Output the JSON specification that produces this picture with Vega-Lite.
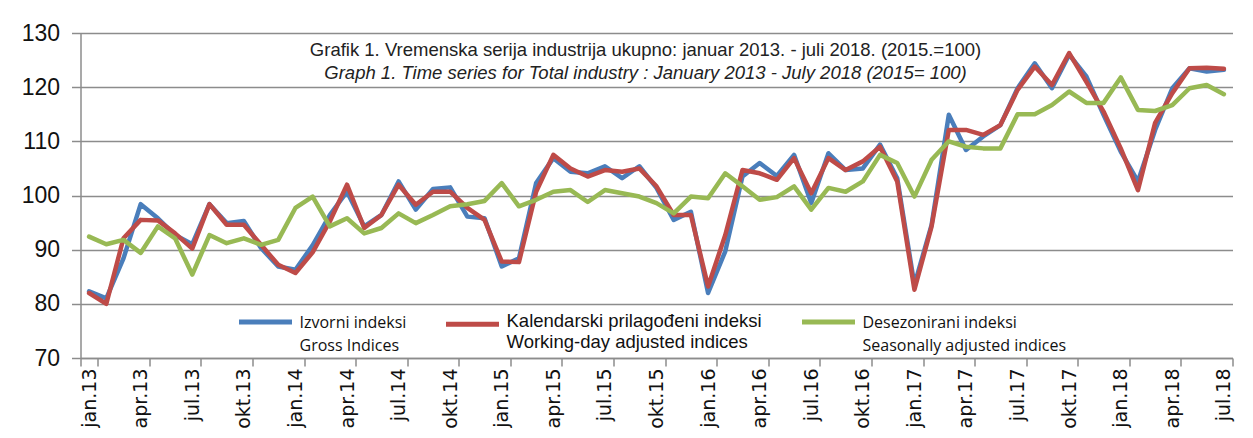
{
  "$schema": "https://vega.github.io/schema/vega-lite/v6.json",
  "width": 1152,
  "height": 325,
  "autosize": "none",
  "padding": {"left": 80.5, "top": 33, "right": 20.5, "bottom": 80},
  "background": "white",
  "title": {
    "text": "Grafik 1. Vremenska serija industrija ukupno: januar 2013. - juli 2018. (2015.=100)",
    "subtitle": "Graph 1. Time series for Total industry : January 2013 - July 2018 (2015= 100)",
    "anchor": "middle",
    "frame": "group",
    "offset": -60,
    "dx": -11,
    "font": "Liberation Sans",
    "fontSize": 18.5,
    "fontWeight": "normal",
    "color": "#222222",
    "subtitleFont": "Liberation Sans",
    "subtitleFontSize": 18.5,
    "subtitleFontStyle": "italic",
    "subtitleColor": "#222222",
    "subtitlePadding": 4
  },
  "data": {
    "values": [
      {"m": "jan.13", "g": 82.3, "w": 82.0, "s": 92.4},
      {"m": "feb.13", "g": 81.0, "w": 80.0, "s": 91.0},
      {"m": "mar.13", "g": 88.4, "w": 92.1, "s": 91.8},
      {"m": "apr.13", "g": 98.4, "w": 95.5, "s": 89.4},
      {"m": "maj.13", "g": 95.8, "w": 95.4, "s": 94.3},
      {"m": "jun.13", "g": 92.7, "w": 93.0, "s": 92.1},
      {"m": "jul.13", "g": 91.0, "w": 90.2, "s": 85.4},
      {"m": "avg.13", "g": 98.4, "w": 98.4, "s": 92.7},
      {"m": "sep.13", "g": 94.9, "w": 94.6, "s": 91.2},
      {"m": "okt.13", "g": 95.3, "w": 94.6, "s": 92.1},
      {"m": "nov.13", "g": 90.3, "w": 90.9, "s": 90.9},
      {"m": "dec.13", "g": 86.9, "w": 87.2, "s": 91.8},
      {"m": "jan.14", "g": 86.3, "w": 85.7, "s": 97.7},
      {"m": "feb.14", "g": 90.8, "w": 89.5, "s": 99.8},
      {"m": "mar.14", "g": 96.4, "w": 95.2, "s": 94.3},
      {"m": "apr.14", "g": 100.7, "w": 102.0, "s": 95.8},
      {"m": "maj.14", "g": 94.3, "w": 94.0, "s": 93.0},
      {"m": "jun.14", "g": 96.4, "w": 96.4, "s": 94.0},
      {"m": "jul.14", "g": 102.6, "w": 102.0, "s": 96.7},
      {"m": "avg.14", "g": 97.4, "w": 98.3, "s": 94.9},
      {"m": "sep.14", "g": 101.2, "w": 100.7, "s": 96.4},
      {"m": "okt.14", "g": 101.5, "w": 100.7, "s": 98.0},
      {"m": "nov.14", "g": 96.1, "w": 97.7, "s": 98.4},
      {"m": "dec.14", "g": 95.8, "w": 95.5, "s": 99.0},
      {"m": "jan.15", "g": 86.9, "w": 87.8, "s": 102.3},
      {"m": "feb.15", "g": 88.4, "w": 87.7, "s": 98.0},
      {"m": "mar.15", "g": 102.3, "w": 100.7, "s": 99.2},
      {"m": "apr.15", "g": 106.9, "w": 107.5, "s": 100.7},
      {"m": "maj.15", "g": 104.4, "w": 105.0, "s": 101.0},
      {"m": "jun.15", "g": 104.1, "w": 103.5, "s": 98.8},
      {"m": "jul.15", "g": 105.4, "w": 104.7, "s": 101.0},
      {"m": "avg.15", "g": 103.2, "w": 104.4, "s": 100.4},
      {"m": "sep.15", "g": 105.4, "w": 105.0, "s": 99.8},
      {"m": "okt.15", "g": 101.4, "w": 101.7, "s": 98.6},
      {"m": "nov.15", "g": 95.5, "w": 96.4, "s": 96.7},
      {"m": "dec.15", "g": 97.0, "w": 96.4, "s": 99.8},
      {"m": "jan.16", "g": 82.0, "w": 83.2, "s": 99.5},
      {"m": "feb.16", "g": 89.7, "w": 92.7, "s": 104.1},
      {"m": "mar.16", "g": 103.5, "w": 104.7, "s": 101.7},
      {"m": "apr.16", "g": 106.0, "w": 104.1, "s": 99.2},
      {"m": "maj.16", "g": 103.6, "w": 102.9, "s": 99.7},
      {"m": "jun.16", "g": 107.5, "w": 106.9, "s": 101.7},
      {"m": "jul.16", "g": 98.6, "w": 100.4, "s": 97.4},
      {"m": "avg.16", "g": 107.8, "w": 106.9, "s": 101.4},
      {"m": "sep.16", "g": 104.7, "w": 104.7, "s": 100.7},
      {"m": "okt.16", "g": 105.0, "w": 106.3, "s": 102.6},
      {"m": "nov.16", "g": 109.4, "w": 109.0, "s": 107.5},
      {"m": "dec.16", "g": 103.2, "w": 102.6, "s": 106.0},
      {"m": "jan.17", "g": 83.5, "w": 82.6, "s": 99.8},
      {"m": "feb.17", "g": 94.6, "w": 94.3, "s": 106.6},
      {"m": "mar.17", "g": 114.9, "w": 112.1, "s": 110.0},
      {"m": "apr.17", "g": 108.4, "w": 112.1, "s": 109.0},
      {"m": "maj.17", "g": 110.9, "w": 111.2, "s": 108.7},
      {"m": "jun.17", "g": 113.0, "w": 113.0, "s": 108.7},
      {"m": "jul.17", "g": 119.8, "w": 119.5, "s": 115.0},
      {"m": "avg.17", "g": 124.4, "w": 123.8, "s": 115.0},
      {"m": "sep.17", "g": 119.8, "w": 120.4, "s": 116.7},
      {"m": "okt.17", "g": 126.0, "w": 126.3, "s": 119.2},
      {"m": "nov.17", "g": 122.0, "w": 121.0, "s": 117.1},
      {"m": "dec.17", "g": 114.9, "w": 115.5, "s": 117.1},
      {"m": "jan.18", "g": 108.1, "w": 108.7, "s": 121.8},
      {"m": "feb.18", "g": 102.6, "w": 101.0, "s": 115.8},
      {"m": "mar.18", "g": 112.1, "w": 113.4, "s": 115.6},
      {"m": "apr.18", "g": 119.8, "w": 118.9, "s": 116.7},
      {"m": "maj.18", "g": 123.5, "w": 123.5, "s": 119.8},
      {"m": "jun.18", "g": 122.9, "w": 123.6, "s": 120.4},
      {"m": "jul.18", "g": 123.2, "w": 123.4, "s": 118.7}
    ]
  },
  "transform": [{"fold": ["g", "w", "s"], "as": ["series", "value"]}],
  "mark": {"type": "line", "strokeWidth": 4.5, "strokeJoin": "round", "strokeCap": "round"},
  "encoding": {
    "x": {
      "field": "m",
      "type": "ordinal",
      "sort": null,
      "bandPosition": 0.5,
      "scale": {"type": "band", "paddingInner": 0, "paddingOuter": 0},
      "axis": {
        "title": null,
        "values": ["jan.13", "apr.13", "jul.13", "okt.13", "jan.14", "apr.14", "jul.14", "okt.14", "jan.15", "apr.15", "jul.15", "okt.15", "jan.16", "apr.16", "jul.16", "okt.16", "jan.17", "apr.17", "jul.17", "okt.17", "jan.18", "apr.18", "jul.18"],
        "tickBand": "extent",
        "labelAngle": -90,
        "labelAlign": "right",
        "labelBaseline": "middle",
        "labelFont": "DejaVu Sans",
        "labelFontSize": 19,
        "labelColor": "#111111",
        "labelPadding": 2,
        "tickSize": 8,
        "tickColor": "#8c8c8c",
        "tickWidth": 1.5,
        "domainColor": "#8c8c8c",
        "domainWidth": 1.5,
        "grid": false,
        "labelOverlap": false
      }
    },
    "y": {
      "field": "value",
      "type": "quantitative",
      "scale": {"domain": [70, 130], "nice": false, "zero": false},
      "axis": {
        "title": null,
        "values": [70, 80, 90, 100, 110, 120, 130],
        "labelFont": "Liberation Sans",
        "labelFontSize": 23,
        "labelColor": "#111111",
        "labelPadding": 12,
        "tickSize": 9,
        "tickColor": "#8c8c8c",
        "tickWidth": 1.5,
        "domainColor": "#8c8c8c",
        "domainWidth": 1.5,
        "grid": true,
        "gridColor": "#8c8c8c",
        "gridWidth": 1.5
      }
    },
    "color": {
      "field": "series",
      "type": "nominal",
      "sort": ["g", "w", "s"],
      "scale": {"domain": ["g", "w", "s"], "range": ["#4a7ebb", "#be4b48", "#98b954"]},
      "legend": {
        "title": null,
        "orient": "none",
        "legendX": 156,
        "legendY": 260,
        "direction": "horizontal",
        "columns": 3,
        "padding": 0,
        "columnPadding": 29,
        "symbolType": "stroke",
        "symbolSize": 2809,
        "symbolStrokeWidth": 5,
        "labelOffset": 5,
        "labelLimit": 0,
        "labelBaseline": "top",
        "labelColor": "#111111",
        "labelExpr": "datum.label == 'g' ? ['Izvorni indeksi', 'Gross Indices'] : datum.label == 'w' ? ['Kalendarski prilagođeni indeksi', 'Working-day adjusted indices'] : ['Desezonirani indeksi', 'Seasonally adjusted indices']",
        "encode": {
          "labels": {
            "update": {
              "fontSize": {"signal": "datum.value == 'w' ? 18.5 : 16"},
              "font": {"signal": "datum.value == 'w' ? 'Liberation Sans' : 'Open Sans'"},
              "lineHeight": {"signal": "datum.value == 'w' ? 21 : 23"},
              "dy": {"signal": "datum.value == 'w' ? -12 : -7"}
            }
          }
        }
      }
    }
  },
  "config": {"view": {"stroke": null}}
}
